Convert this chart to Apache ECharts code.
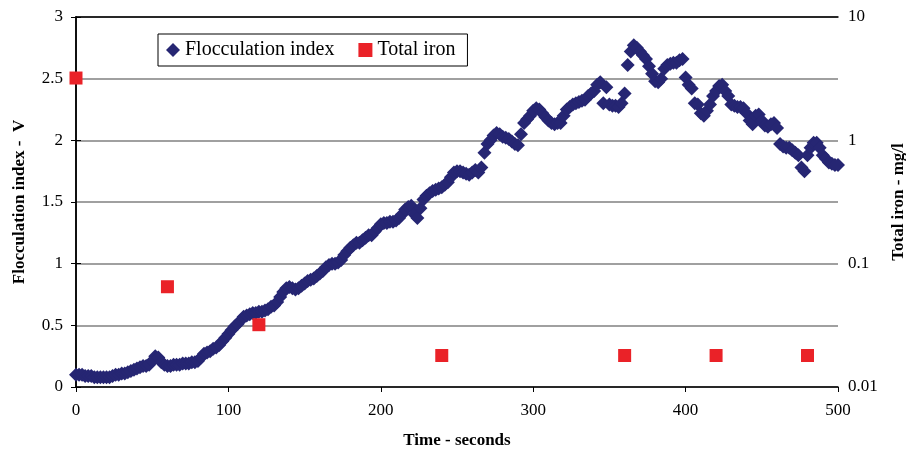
<!DOCTYPE html>
<html>
<head>
<meta charset="utf-8">
<style>
  html, body { margin: 0; padding: 0; background: #ffffff; }
  #chart { width: 906px; height: 452px; }
</style>
<script src="https://cdn.jsdelivr.net/npm/echarts@6/dist/echarts.min.js"></script>
</head>
<body>
<div id="chart"></div>
<script>
// Flocculation index readings, one every 2 seconds from 0 to 500 s
const flocTimes = [];
for (let t = 0; t <= 500; t += 2) flocTimes.push(t);

const flocValues = [
  0.10, 0.10, 0.10, 0.09, 0.09, 0.09, 0.08, 0.08, 0.08, 0.08, 0.08,
  0.08, 0.09, 0.10, 0.10, 0.11, 0.11, 0.12, 0.13, 0.14, 0.15,
  0.16, 0.17, 0.17, 0.18, 0.21, 0.25, 0.24, 0.20, 0.18, 0.17,
  0.17, 0.18, 0.18, 0.18, 0.19, 0.19, 0.19, 0.20, 0.20, 0.21,
  0.24, 0.27, 0.28, 0.29, 0.31, 0.32, 0.34, 0.37, 0.40, 0.43,
  0.46, 0.49, 0.51, 0.54, 0.57, 0.58, 0.59, 0.60, 0.60, 0.61,
  0.61, 0.62, 0.63, 0.65, 0.66, 0.69, 0.73, 0.77, 0.80, 0.81,
  0.80, 0.79, 0.80, 0.82, 0.84, 0.86, 0.87, 0.88, 0.90, 0.92,
  0.94, 0.97, 0.99, 1.00, 1.00, 1.01, 1.03, 1.07, 1.10, 1.13,
  1.15, 1.17, 1.17, 1.19, 1.21, 1.23, 1.23, 1.26, 1.29, 1.32,
  1.33, 1.33, 1.34, 1.34, 1.35, 1.37, 1.40, 1.44, 1.46, 1.47,
  1.40, 1.37, 1.45, 1.52, 1.55, 1.57, 1.59, 1.60, 1.61, 1.62,
  1.64, 1.66, 1.70, 1.74, 1.75, 1.75, 1.74, 1.73, 1.72, 1.74,
  1.76, 1.74, 1.78, 1.90, 1.97, 2.00, 2.04, 2.06, 2.05, 2.03,
  2.02, 2.01, 1.99, 1.97, 1.96, 2.05, 2.14, 2.17, 2.20, 2.24,
  2.26, 2.25, 2.22, 2.19, 2.16, 2.14, 2.13, 2.14, 2.14, 2.20,
  2.25, 2.27, 2.29, 2.30, 2.31, 2.32, 2.33, 2.36, 2.38, 2.40,
  2.45, 2.47, 2.30, 2.43, 2.29, 2.28, 2.28, 2.27, 2.30, 2.38,
  2.61, 2.72, 2.77, 2.75, 2.72, 2.69, 2.66, 2.60, 2.54, 2.48,
  2.47, 2.50, 2.58, 2.61, 2.62, 2.63, 2.63, 2.65, 2.66, 2.51,
  2.45, 2.42, 2.30, 2.29, 2.22, 2.20, 2.24, 2.29, 2.36, 2.40,
  2.44, 2.45, 2.40, 2.36, 2.29, 2.28, 2.27, 2.27, 2.26, 2.22,
  2.16, 2.13, 2.20, 2.21, 2.16, 2.12, 2.11, 2.13, 2.14, 2.10,
  1.97, 1.95, 1.94, 1.94, 1.92, 1.90, 1.88, 1.78, 1.75, 1.88,
  1.94, 1.98, 1.98, 1.94, 1.88, 1.85, 1.82, 1.81, 1.80, 1.80
];

// Total iron samples (mg/l)
const ironTimes = [0, 60, 120, 240, 360, 420, 480];
const ironValues = [3.2, 0.065, 0.032, 0.018, 0.018, 0.018, 0.018];

const leftTicks = [0, 0.5, 1, 1.5, 2, 2.5, 3];
const rightTicks = [0.01, 0.1, 1, 10];
const timeTicks = [0, 100, 200, 300, 400, 500];

const serif = '"Liberation Serif", "Times New Roman", serif';
const navy = '#262673';
const red = '#ea2228';

const flocData = flocTimes.map((t, i) => [t, flocValues[i]]);
const ironData = ironTimes.map((t, i) => [t, ironValues[i]]);

const chart = echarts.init(document.getElementById('chart'), null, { renderer: 'canvas' });

chart.setOption({
  animation: false,
  backgroundColor: '#ffffff',
  grid: { left: 76, right: 68, top: 17, bottom: 65, containLabel: false, outerBoundsMode: 'none' },
  legend: {
    left: 158, top: 34,
    padding: [6, 12, 6, 8],
    borderColor: '#000000', borderWidth: 1,
    itemGap: 24, itemWidth: 14, itemHeight: 14,
    textStyle: { fontFamily: serif, fontSize: 20, color: '#000000' },
    data: [
      { name: 'Flocculation index', icon: 'diamond' },
      { name: 'Total iron', icon: 'rect' }
    ]
  },
  xAxis: [
    {
      type: 'value', min: timeTicks[0], max: timeTicks[timeTicks.length - 1], interval: 100,
      name: 'Time - seconds', nameLocation: 'middle', nameGap: 45,
      nameTextStyle: { fontFamily: serif, fontSize: 17, fontWeight: 'bold', color: '#000000' },
      axisLine: { show: true, lineStyle: { color: '#000000', width: 1.5 } },
      axisTick: { show: true, inside: false, length: 5, lineStyle: { color: '#000000' } },
      axisLabel: { fontFamily: serif, fontSize: 17, color: '#000000', margin: 15 },
      splitLine: { show: false }
    },
    {
      type: 'value', position: 'top', min: 0, max: 500,
      axisLine: { show: true, lineStyle: { color: '#000000', width: 1.5 } },
      axisTick: { show: false }, axisLabel: { show: false }, splitLine: { show: false }
    }
  ],
  yAxis: [
    {
      type: 'value', min: leftTicks[0], max: leftTicks[leftTicks.length - 1], interval: 0.5,
      name: 'Flocculation index -  V', nameLocation: 'middle', nameGap: 48, nameRotate: 90,
      nameTextStyle: { fontFamily: serif, fontSize: 17, fontWeight: 'bold', color: '#000000' },
      axisLine: { show: true, lineStyle: { color: '#000000', width: 1.5 } },
      axisTick: { show: true, inside: false, length: 5, lineStyle: { color: '#000000' } },
      axisLabel: { fontFamily: serif, fontSize: 17, color: '#000000', margin: 13 },
      splitLine: { show: true, lineStyle: { color: '#808080', width: 1.5 } }
    },
    {
      type: 'log', logBase: 10, min: rightTicks[0], max: rightTicks[rightTicks.length - 1],
      position: 'right',
      name: 'Total iron - mg/l', nameLocation: 'middle', nameGap: 52, nameRotate: 90,
      nameTextStyle: { fontFamily: serif, fontSize: 17, fontWeight: 'bold', color: '#000000' },
      axisLine: { show: true, lineStyle: { color: '#000000', width: 1.5 } },
      axisTick: { show: true, inside: false, length: 5, lineStyle: { color: '#000000' } },
      axisLabel: {
        fontFamily: serif, fontSize: 17, color: '#000000', margin: 10,
        formatter: v => String(+v.toPrecision(3))
      },
      splitLine: { show: false }
    }
  ],
  series: [
    {
      name: 'Flocculation index', type: 'scatter', xAxisIndex: 0, yAxisIndex: 0,
      symbol: 'diamond', symbolSize: 14,
      itemStyle: { color: navy, opacity: 1 },
      data: flocData
    },
    {
      name: 'Total iron', type: 'scatter', xAxisIndex: 0, yAxisIndex: 1,
      symbol: 'rect', symbolSize: 13,
      itemStyle: { color: red, opacity: 1 },
      data: ironData
    }
  ]
});
</script>
</body>
</html>
